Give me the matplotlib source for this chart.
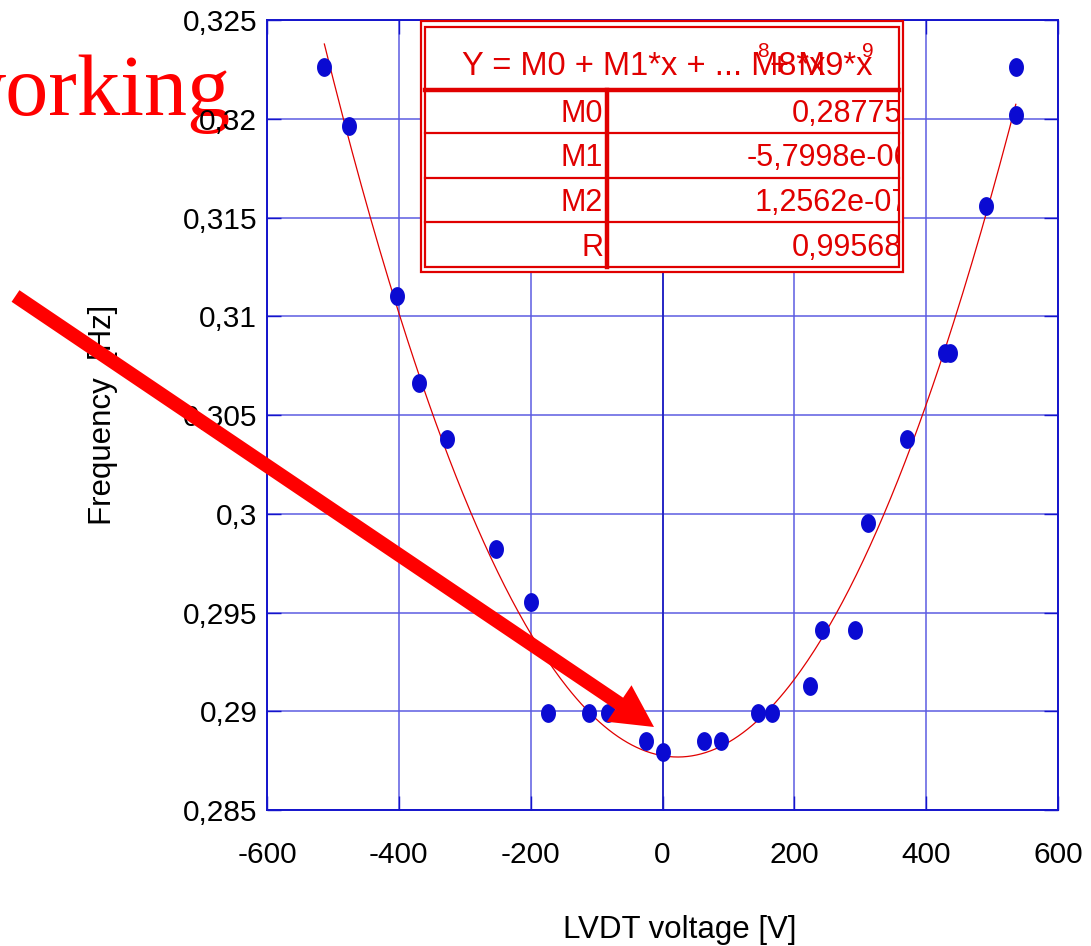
"""
Frequency vs LVDT voltage with quadratic fit, result box and the
'working' annotation arrow.
"""

import numpy as np
import matplotlib
matplotlib.use("Agg")
import matplotlib.pyplot as plt
from matplotlib.path import Path
from matplotlib.patches import Rectangle, FancyArrow

plt.rcParams['font.family'] = ['Liberation Sans', 'DejaVu Sans']
plt.rcParams['axes.unicode_minus'] = False

# measured points
voltage = [-513, -476, -403, -370, -327, -253, -200, -174, -112, -83,
           -25, 0, 63, 89, 145, 166, 224, 242, 292, 312,
           371, 429, 436, 491, 536, 536]
frequency = [0.32262, 0.31963, 0.31103, 0.30662, 0.30377, 0.29820, 0.29552,
             0.28991, 0.28991, 0.28991, 0.28849, 0.28794, 0.28849, 0.28849,
             0.28991, 0.28991, 0.29128, 0.29411, 0.29411, 0.29953, 0.30377,
             0.30813, 0.30813, 0.31558, 0.32019, 0.32262]

# fit result box
fit_names = ['M0', 'M1', 'M2', 'R']
fit_values = ['0,28775', '-5,7998e-06', '1,2562e-07', '0,99568']
coeffs = [0.28775, -5.7998e-06, 1.2562e-07]

xticks = [-600, -400, -200, 0, 200, 400, 600]
xtick_labels = ['-600', '-400', '-200', '0', '200', '400', '600']
yticks = [0.285, 0.29, 0.295, 0.3, 0.305, 0.31, 0.315, 0.32, 0.325]
ytick_labels = ['0,285', '0,29', '0,295', '0,3', '0,305', '0,31', '0,315', '0,32', '0,325']

BLUE = '#1414cc'
RED = '#e00000'
W, H = 1091, 946


def ellipse_marker():
    t = np.linspace(0, 2 * np.pi, 60)
    return Path(np.column_stack([0.78 * np.cos(t), np.sin(t)]))


def makegraph(fig):
    ax = fig.add_axes([267 / W, 1 - 810 / H, 791 / W, 790 / H])
    ax.set_xlim(-600, 600)
    ax.set_ylim(0.285, 0.325)
    ax.grid(color='#5c5ce2', linewidth=1.1, zorder=0)
    ax.set_axisbelow(True)
    ax.axvline(0, color='#1a1ac0', linewidth=1.2, zorder=1)

    xs = np.linspace(min(voltage), max(voltage), 300)
    fit = coeffs[0] + coeffs[1] * xs + coeffs[2] * xs ** 2
    ax.plot(xs, fit, color=RED, linewidth=0.9, zorder=2)
    ax.plot(voltage, frequency, linestyle='none', marker=ellipse_marker(),
            markersize=12.5, color='#0a0ad2', zorder=3)

    ax.set_xticks(xticks)
    ax.set_xticklabels(xtick_labels)
    ax.set_yticks(yticks)
    ax.set_yticklabels(ytick_labels)
    ax.tick_params(direction='in', length=10, width=1, color=BLUE,
                   top=True, right=True, labelsize=21.5)
    ax.tick_params(axis='x', pad=22)
    ax.tick_params(axis='y', pad=7)
    for sp in ax.spines.values():
        sp.set_color(BLUE)
        sp.set_linewidth(1.4)

    ax.set_xlabel('LVDT voltage [V]', fontsize=22.5)
    ax.xaxis.set_label_coords((680 - 267) / 791, (810 - 915) / 790)
    ax.set_ylabel('Frequency  [Hz]', fontsize=22.5)
    ax.yaxis.set_label_coords((118 - 267) / 791, 0.5)
    return ax


def makeoverlay(fig):
    ov = fig.add_axes([0, 0, 1, 1], zorder=5)
    ov.set_xlim(0, W)
    ov.set_ylim(H, 0)
    ov.axis('off')
    ov.patch.set_alpha(0)

    # result box
    ov.add_patch(Rectangle((421, 21), 482, 251, facecolor='white',
                           edgecolor=RED, linewidth=1.6))
    ov.add_patch(Rectangle((425, 27), 474, 240, facecolor='none',
                           edgecolor=RED, linewidth=1.6))
    ov.plot([425, 899], [90, 90], color=RED, linewidth=3.2)
    for yy in [133, 178, 222]:
        ov.plot([425, 899], [yy, yy], color=RED, linewidth=1.6)
    ov.plot([607, 607], [90, 267], color=RED, linewidth=3.2)

    ov.text(462, 75, 'Y = M0 + M1*x + ... M8*x', fontsize=23.5, color=RED,
            ha='left', va='baseline')
    ov.text(872, 75, '+ M9*x', fontsize=23.5, color=RED, ha='right', va='baseline')
    ov.text(757, 57, '8', fontsize=15, color=RED, ha='left', va='baseline')
    ov.text(862, 57, '9', fontsize=15, color=RED, ha='left', va='baseline')

    clip = Rectangle((425, 90), 474, 177, transform=ov.transData)
    baselines = [122, 166, 211, 256]
    starts = [792, 747, 755, 792]
    for name, val, yb, xs in zip(fit_names, fit_values, baselines, starts):
        ov.text(603, yb, name, fontsize=22, color=RED, ha='right', va='baseline')
        t = ov.text(xs, yb, val, fontsize=22, color=RED, ha='left',
                    va='baseline', clip_on=True)
        t.set_clip_path(clip)

    # big arrow
    x0, y0, x1, y1 = 15.5, 296, 654, 727
    ov.add_patch(FancyArrow(x0, y0, x1 - x0, y1 - y0, width=14,
                            head_width=44, head_length=42,
                            length_includes_head=True, color='#ff0000',
                            linewidth=0))


fig = plt.figure(figsize=(W / 100, H / 100), dpi=100)
makegraph(fig)
makeoverlay(fig)
fig.text(231 / W, 1 - 115 / H, 'working', fontsize=62, color='#ff0000',
         family=['Liberation Serif', 'DejaVu Serif'], ha='right',
         va='baseline', zorder=-1)
fig.savefig('out.png', dpi=100)
